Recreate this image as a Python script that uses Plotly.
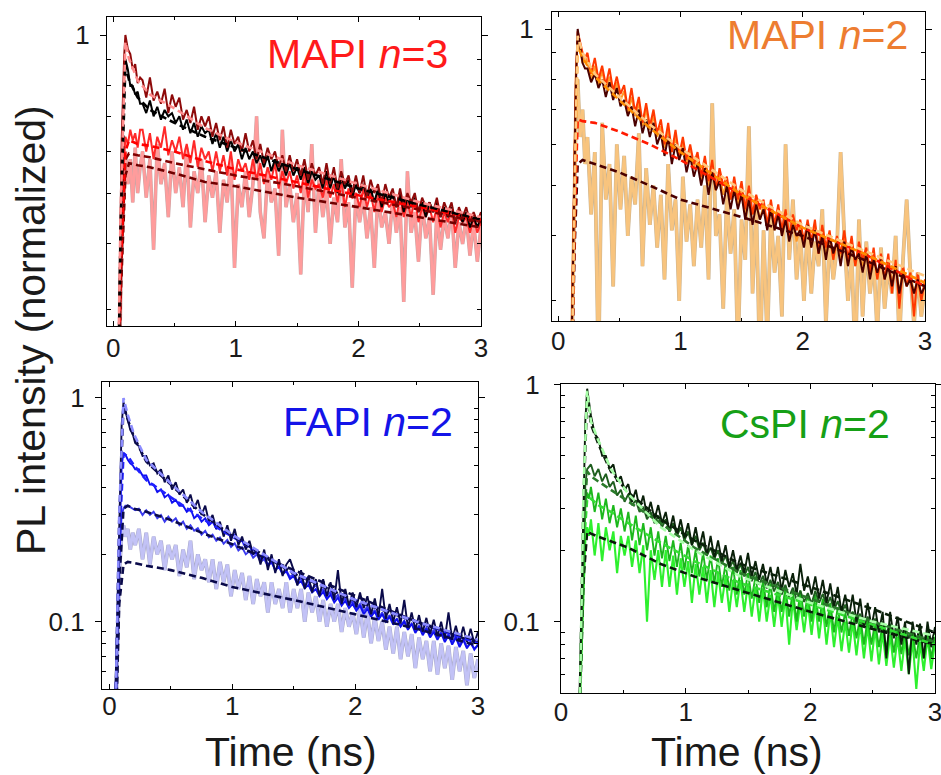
import plotly.graph_objects as go

W, H = 941, 775

# ---------------- shared late time channels (ns) ----------------
LATE_T = [0.24,0.27,0.30,0.33,0.36,0.39,0.42,0.45,0.48,0.51,
          0.54,0.57,0.60,0.63,0.66,0.69,0.72,0.75,0.78,0.81,
          0.84,0.87,0.90,0.93,0.96,0.99,1.02,1.05,1.08,1.11,
          1.14,1.17,1.20,1.23,1.26,1.29,1.32,1.35,1.38,1.41,
          1.44,1.47,1.50,1.53,1.56,1.59,1.62,1.65,1.68,1.71,
          1.74,1.77,1.80,1.83,1.86,1.89,1.92,1.95,1.98,2.01,
          2.04,2.07,2.10,2.13,2.16,2.19,2.22,2.25,2.28,2.31,
          2.34,2.37,2.40,2.43,2.46,2.49,2.52,2.55,2.58,2.61,
          2.64,2.67,2.70,2.73,2.76,2.79,2.82,2.85,2.88,2.91,
          2.94,2.97,3.00]

# ---------------- Panel 1: MAPI n=3 ----------------
P1_EARLY_T = [0.03,0.05,0.07,0.09,0.10,0.12,0.14,0.16,0.18,0.20,0.22]
P1_DARKRED = [.15,.34,.63,.91,1.0,.94,.92,.86,.88,.81,.83,
    .82,.76,.83,.75,.78,.74,.79,.71,.77,.73,
    .76,.69,.72,.68,.73,.66,.70,.67,.70,.64,
    .68,.63,.67,.61,.66,.62,.64,.60,.65,.60,
    .63,.58,.62,.57,.61,.58,.60,.56,.59,.55,
    .59,.55,.58,.54,.58,.53,.57,.54,.56,.52,
    .57,.52,.56,.51,.55,.52,.54,.50,.54,.50,
    .54,.49,.53,.50,.52,.48,.52,.49,.51,.47,
    .51,.47,.50,.48,.50,.46,.49,.47,.48,.46,
    .49,.45,.48,.46,.48,.44,.47,.45,.47,.44,
    .46,.44,.46]
P1_BLACK = [.14,.31,.59,.84,.90,.86,.80,.80,.77,.78,.74,
    .74,.71,.75,.70,.73,.69,.72,.70,.71,.68,
    .70,.66,.69,.65,.68,.64,.67,.65,.66,.62,
    .65,.61,.64,.60,.63,.60,.62,.58,.61,.58,
    .60,.57,.59,.56,.59,.55,.58,.55,.57,.54,
    .57,.54,.56,.53,.56,.52,.55,.53,.54,.51,
    .55,.51,.54,.50,.54,.51,.53,.49,.52,.50,
    .52,.49,.51,.48,.51,.47,.50,.48,.50,.47,
    .50,.46,.49,.47,.49,.46,.48,.45,.48,.46,
    .48,.45,.47,.45,.47,.44,.46,.44,.46,.43,
    .45,.43,.45]
P1_RED = [.12,.28,.48,.60,.64,.62,.66,.63,.65,.61,.66,
    .66,.60,.65,.58,.64,.61,.67,.59,.63,.60,
    .64,.58,.62,.57,.63,.56,.61,.58,.60,.55,
    .60,.55,.59,.54,.60,.53,.58,.55,.57,.53,
    .58,.53,.57,.52,.56,.53,.57,.51,.55,.52,
    .55,.51,.54,.50,.55,.49,.53,.51,.52,.49,
    .53,.49,.52,.48,.53,.47,.51,.49,.50,.47,
    .51,.47,.50,.46,.51,.46,.49,.47,.48,.45,
    .49,.45,.48,.45,.49,.44,.47,.45,.47,.44,
    .47,.43,.46,.44,.47,.42,.45,.44,.45,.42,
    .45,.42,.44]
P1_PINK = [.11,.25,.43,.56,.60,.52,.58,.48,.61,.50,.56,
    .60,.49,.58,.39,.62,.52,.57,.45,.60,.50,
    .56,.47,.61,.43,.55,.50,.58,.44,.54,.49,
    .55,.42,.53,.48,.58,.36,.52,.47,.55,.45,
    .52,.70,.46,.41,.55,.48,.51,.38,.66,.47,
    .52,.44,.50,.35,.54,.46,.62,.42,.53,.45,
    .51,.40,.49,.44,.58,.43,.48,.33,.50,.44,
    .49,.41,.47,.36,.50,.43,.46,.40,.49,.42,
    .47,.31,.55,.42,.46,.37,.48,.41,.45,.32,
    .46,.39,.45,.41,.47,.36,.44,.40,.45,.38,
    .44,.37,.43]
P1_FIT_T = [0.03,0.06,0.10,0.13,0.2,0.3,0.5,0.75,1.0,1.5,2.0,2.5,3.0]
P1_FIT_PINK = [.15,.45,.97,.90,.82,.77,.725,.665,.625,.565,.52,.48,.45]
P1_FIT_BLACK = [.14,.42,.88,.82,.76,.72,.68,.64,.61,.555,.51,.475,.445]
P1_FIT_RED = [.13,.35,.60,.63,.62,.615,.60,.575,.555,.525,.495,.47,.445]
P1_FIT_DR1 = [.13,.33,.58,.595,.59,.585,.57,.555,.54,.515,.49,.465,.44]
P1_FIT_DR2 = [.12,.31,.54,.57,.565,.56,.545,.525,.515,.49,.47,.45,.43]

# ---------------- Panel 2: MAPI n=2 ----------------
P2_EARLY_T = [0.10,0.115,0.13,0.145,0.16,0.18,0.20,0.22]
P2_REDORANGE = [.18,.28,.50,.80,.99,.95,.90,.88,
    .90,.82,.88,.80,.85,.78,.84,.76,.81,.75,
    .78,.70,.77,.69,.74,.66,.72,.65,.70,.63,
    .67,.60,.66,.58,.64,.57,.62,.56,.60,.55,
    .58,.52,.57,.51,.56,.49,.54,.50,.52,.47,
    .52,.47,.51,.45,.50,.44,.48,.45,.47,.42,
    .47,.42,.46,.41,.45,.40,.44,.41,.43,.39,
    .43,.39,.43,.37,.42,.38,.41,.36,.40,.37,
    .41,.36,.40,.35,.39,.36,.38,.34,.38,.33,
    .37,.33,.37,.31,.36,.29,.35,.32,.34,.28,
    .34,.30,.33]
P2_MAROON = [.17,.27,.48,.78,1.0,.92,.86,.84,
    .84,.79,.82,.77,.80,.74,.79,.73,.77,.71,
    .73,.68,.71,.65,.70,.63,.67,.62,.66,.60,
    .63,.57,.62,.55,.60,.56,.59,.53,.57,.52,
    .55,.50,.54,.48,.53,.49,.51,.46,.50,.45,
    .49,.45,.48,.43,.47,.42,.46,.43,.45,.41,
    .45,.41,.44,.40,.43,.39,.42,.40,.41,.38,
    .42,.38,.41,.37,.40,.36,.40,.37,.39,.35,
    .39,.35,.38,.36,.37,.34,.37,.33,.36,.34,
    .36,.33,.35,.32,.35,.31,.34,.32,.33,.31,
    .33,.31,.32]
P2_ORANGE = [.18,.30,.52,.82,.96,.90,.86,.89,
    .86,.80,.85,.78,.83,.77,.81,.74,.79,.73,
    .76,.69,.74,.68,.72,.65,.70,.64,.68,.62,
    .65,.59,.64,.58,.62,.56,.61,.55,.59,.54,
    .57,.51,.56,.50,.54,.49,.53,.48,.51,.47,
    .50,.46,.49,.44,.48,.44,.47,.43,.46,.42,
    .46,.41,.45,.40,.44,.40,.43,.39,.42,.39,
    .42,.38,.42,.37,.41,.37,.40,.36,.39,.36,
    .40,.35,.39,.35,.38,.35,.37,.34,.37,.33,
    .36,.33,.36,.32,.35,.31,.35,.32,.34,.31,
    .33,.30,.33]
P2_LIGHTORANGE = [.16,.27,.45,.68,.80,.62,.70,.55,
    .62,.44,.58,.22,.66,.47,.55,.32,.60,.45,
    .57,.40,.52,.46,.63,.35,.54,.42,.50,.38,
    .48,.33,.55,.41,.47,.30,.52,.39,.46,.35,
    .47,.38,.50,.33,.72,.40,.44,.29,.48,.37,
    .45,.24,.43,.36,.65,.31,.46,.22,.41,.25,
    .44,.34,.40,.28,.60,.36,.47,.33,.41,.30,
    .42,.31,.39,.35,.45,.27,.40,.33,.38,.58,
    .40,.30,.37,.23,.43,.28,.39,.31,.36,.26,
    .38,.29,.35,.31,.40,.25,.36,.47,.34,.27,
    .34,.28,.32]
P2_FIT_T = [0.11,0.135,0.16,0.2,0.3,0.5,0.75,1.0,1.5,2.0,2.5,3.0]
P2_FIT_LIGHT = [.2,.5,.97,.90,.82,.74,.655,.59,.49,.42,.375,.335]
P2_FIT_ORANGE = [.2,.48,.93,.88,.81,.73,.645,.58,.48,.415,.37,.325]
P2_FIT_RED = [.2,.42,.67,.665,.66,.635,.60,.56,.48,.415,.37,.32]
P2_FIT_MAROON = [.2,.38,.55,.56,.55,.53,.50,.47,.435,.40,.36,.32]

# ---------------- Panel 3: FAPI n=2 ----------------
P3_EARLY_T = [0.04,0.06,0.08,0.10,0.115,0.13,0.15,0.17,0.19,0.21]
P3_NAVY = [.03,.09,.31,.76,.96,.87,.80,.72,.69,.63,
    .61,.55,.55,.50,.51,.46,.48,.42,.45,.39,
    .42,.37,.39,.34,.37,.32,.35,.30,.33,.28,
    .30,.26,.28,.24,.27,.23,.26,.22,.24,.21,
    .23,.20,.21,.18,.21,.17,.20,.165,.19,.16,
    .18,.19,.17,.145,.17,.14,.16,.135,.155,.13,
    .155,.13,.15,.125,.17,.12,.14,.118,.135,.116,
    .135,.115,.13,.108,.127,.105,.14,.103,.12,.10,
    .116,.098,.125,.094,.11,.092,.107,.09,.104,.088,
    .102,.086,.10,.084,.11,.083,.096,.082,.095,.081,
    .093,.08,.09]
P3_BLUE = [.03,.08,.25,.50,.57,.56,.53,.51,.50,.48,
    .48,.45,.45,.41,.41,.38,.39,.36,.37,.34,
    .35,.33,.33,.31,.32,.29,.30,.28,.29,.27,
    .28,.26,.265,.25,.255,.24,.245,.228,.23,.215,
    .22,.20,.205,.19,.195,.18,.185,.17,.176,.163,
    .168,.155,.16,.147,.152,.141,.146,.135,.14,.13,
    .136,.126,.132,.122,.128,.118,.124,.115,.12,.112,
    .118,.108,.114,.105,.111,.102,.108,.10,.105,.097,
    .103,.095,.10,.092,.098,.089,.095,.087,.093,.085,
    .09,.083,.089,.081,.087,.079,.085,.077,.083,.076,
    .081,.075,.079]
P3_MIDBLUE = [.02,.07,.19,.30,.32,.33,.33,.325,.32,.315,
    .32,.30,.315,.30,.31,.29,.30,.28,.295,.28,
    .29,.27,.28,.26,.27,.255,.262,.245,.255,.238,
    .245,.23,.238,.223,.232,.216,.224,.208,.215,.20,
    .207,.193,.20,.185,.19,.177,.184,.17,.177,.165,
    .17,.158,.164,.152,.157,.146,.151,.14,.146,.135,
    .14,.13,.136,.126,.132,.122,.128,.118,.124,.115,
    .12,.111,.117,.107,.113,.104,.11,.101,.107,.099,
    .103,.096,.101,.093,.098,.091,.096,.089,.094,.087,
    .092,.085,.09,.083,.088,.081,.086,.079,.084,.077,
    .08,.076,.078]
P3_LAVENDER = [.02,.06,.16,.25,.27,.24,.26,.21,.25,.22,
    .26,.19,.25,.18,.24,.20,.23,.17,.22,.19,
    .22,.16,.21,.175,.23,.155,.20,.17,.19,.15,
    .19,.14,.185,.15,.18,.13,.17,.14,.165,.125,
    .16,.12,.155,.13,.15,.11,.15,.12,.14,.115,
    .15,.11,.14,.115,.14,.10,.135,.11,.13,.10,
    .125,.095,.12,.10,.12,.09,.115,.095,.11,.088,
    .115,.085,.11,.08,.105,.082,.10,.075,.095,.072,
    .095,.068,.09,.07,.088,.062,.085,.068,.082,.06,
    .082,.058,.08,.062,.078,.055,.077,.06,.074,.052,
    .072,.056,.068]
P3_FIT_T = [0.05,0.08,0.115,0.15,0.2,0.3,0.5,0.75,1.0,1.5,2.0,2.5,3.0]
P3_FIT_LIGHT = [.04,.3,1.0,.84,.69,.53,.415,.31,.245,.165,.125,.10,.083]
P3_FIT_NAVY1 = [.04,.28,.93,.80,.67,.52,.41,.305,.242,.164,.124,.10,.082]
P3_FIT_BLUE = [.04,.22,.56,.55,.50,.43,.36,.29,.24,.165,.125,.10,.08]
P3_FIT_NAVY2 = [.03,.15,.32,.33,.32,.31,.285,.25,.222,.17,.13,.10,.08]
P3_FIT_NAVY3 = [.03,.12,.18,.185,.183,.178,.17,.157,.143,.125,.108,.093,.078]

# ---------------- Panel 4: CsPI n=2 ----------------
P4_EARLY_T = [0.14,0.16,0.18,0.195,0.21,0.225]
P4_DARK = [.03,.10,.35,.70,.96,.82,
    .74,.62,.59,.50,.50,.44,.46,.39,.41,.36,
    .38,.32,.36,.30,.34,.28,.32,.27,.31,.26,
    .29,.24,.28,.23,.27,.225,.26,.21,.25,.205,
    .24,.19,.23,.185,.22,.18,.21,.17,.20,.165,
    .19,.16,.195,.155,.18,.15,.175,.145,.17,.14,
    .17,.135,.165,.14,.16,.13,.175,.135,.155,.13,
    .155,.125,.15,.12,.145,.115,.14,.11,.13,.105,
    .13,.10,.125,.095,.12,.095,.115,.09,.11,.07,
    .11,.085,.105,.08,.10,.06,.10,.08,.098,.07,
    .10,.078,.095]
P4_DARKGREEN = [.03,.08,.22,.38,.44,.45,
    .46,.41,.44,.39,.42,.37,.39,.34,.36,.32,
    .345,.31,.325,.29,.305,.27,.29,.26,.28,.25,
    .27,.24,.26,.23,.25,.22,.24,.21,.23,.20,
    .215,.19,.205,.185,.20,.175,.19,.168,.18,.16,
    .175,.155,.17,.148,.162,.143,.156,.138,.15,.134,
    .147,.13,.143,.127,.139,.124,.135,.121,.132,.119,
    .135,.12,.131,.116,.127,.112,.122,.108,.118,.104,
    .11,.098,.108,.095,.105,.093,.103,.091,.10,.089,
    .098,.088,.096,.086,.095,.085,.094,.084,.093,.083,
    .092,.083,.09]
P4_GREEN = [.03,.07,.18,.30,.35,.33,
    .37,.29,.35,.27,.33,.26,.31,.25,.30,.24,
    .29,.22,.28,.21,.26,.20,.25,.19,.24,.185,
    .23,.18,.22,.17,.215,.165,.21,.16,.20,.155,
    .195,.15,.19,.145,.185,.14,.175,.135,.17,.13,
    .165,.13,.16,.125,.155,.12,.15,.115,.145,.11,
    .14,.11,.138,.105,.135,.10,.135,.105,.13,.10,
    .13,.10,.125,.095,.12,.09,.115,.09,.11,.087,
    .11,.085,.105,.08,.103,.08,.10,.078,.098,.076,
    .096,.074,.094,.073,.092,.072,.09,.07,.09,.07,
    .09,.07,.088]
P4_LIME = [.03,.06,.14,.22,.25,.23,
    .27,.19,.26,.18,.25,.20,.24,.16,.23,.19,
    .23,.17,.22,.16,.21,.10,.20,.15,.20,.14,
    .20,.14,.19,.13,.185,.14,.18,.12,.175,.13,
    .17,.12,.165,.115,.16,.12,.155,.11,.15,.115,
    .15,.11,.145,.105,.14,.10,.138,.10,.13,.095,
    .13,.095,.128,.08,.125,.092,.12,.09,.12,.088,
    .12,.085,.115,.08,.11,.078,.105,.075,.10,.074,
    .10,.072,.098,.07,.096,.068,.094,.066,.09,.065,
    .088,.064,.086,.062,.085,.06,.084,.052,.082,.062,
    .086,.063,.082]
P4_FIT_T = [0.15,0.18,0.21,0.24,0.3,0.4,0.54,0.8,1.07,1.44,2.0,2.5,3.0]
P4_FIT_LIGHT = [.04,.35,.94,.70,.58,.44,.345,.25,.20,.155,.12,.10,.087]
P4_FIT_DARK = [.04,.32,.90,.68,.56,.43,.35,.27,.22,.175,.14,.113,.09]
P4_FIT_GREEN = [.04,.25,.43,.41,.39,.36,.32,.26,.205,.16,.125,.10,.082]
P4_FIT_LIME = [.04,.2,.33,.33,.31,.29,.26,.215,.18,.145,.118,.097,.08]
P4_FIT_BLACK = [.04,.15,.24,.235,.228,.218,.205,.175,.155,.135,.11,.093,.08]

X_TICKS = [0, 1, 2, 3]
X_MINOR = [0.5, 1.5, 2.5]
Y_MINOR_TOP = [0.3, 0.4, 0.5, 0.6, 0.7, 0.8, 0.9]
Y_MINOR_BOT = [0.05, 0.06, 0.07, 0.08, 0.09, 0.2, 0.3, 0.4, 0.5, 0.6, 0.7, 0.8, 0.9]

FONT = "Liberation Sans, Arial, sans-serif"

fig = go.Figure()


def data_line(n, x, y, color, width=1.5, edge=None):
    xa = "x" if n == 1 else f"x{n}"
    ya = "y" if n == 1 else f"y{n}"
    if edge:
        fig.add_trace(go.Scatter(x=x, y=y, mode="lines", xaxis=xa, yaxis=ya,
                                 line=dict(color=edge, width=width + 1.0),
                                 showlegend=False, hoverinfo="skip"))
    fig.add_trace(go.Scatter(x=x, y=y, mode="lines", xaxis=xa, yaxis=ya,
                             line=dict(color=color, width=width),
                             showlegend=False, hoverinfo="skip"))


def fit_line(n, x, y, color, width=2.6):
    xa = "x" if n == 1 else f"x{n}"
    ya = "y" if n == 1 else f"y{n}"
    fig.add_trace(go.Scatter(x=x, y=y, mode="lines", xaxis=xa, yaxis=ya,
                             line=dict(color=color, width=width, dash="7px,4px"),
                             showlegend=False, hoverinfo="skip"))


# Panel 1
T1 = P1_EARLY_T + LATE_T
data_line(1, T1, P1_PINK, "#FF9C9C", 2.6, edge="#C9A4A4")
data_line(1, T1, P1_RED, "#FF2A2A", 2.0)
data_line(1, T1, P1_BLACK, "#000000", 2.0)
data_line(1, T1, P1_DARKRED, "#8E0A0A", 2.0)
fit_line(1, P1_FIT_T, P1_FIT_DR2, "#700000")
fit_line(1, P1_FIT_T, P1_FIT_DR1, "#800000")
fit_line(1, P1_FIT_T, P1_FIT_RED, "#FF0000")
fit_line(1, P1_FIT_T, P1_FIT_BLACK, "#000000")
fit_line(1, P1_FIT_T, P1_FIT_PINK, "#FF8C8C")

# Panel 2
T2 = P2_EARLY_T + LATE_T
data_line(2, T2, P2_LIGHTORANGE, "#F8C47E", 2.8, edge="#C9B28F")
data_line(2, T2, P2_ORANGE, "#FF9A2A", 2.0)
data_line(2, T2, P2_REDORANGE, "#FF3800", 2.0)
data_line(2, T2, P2_MAROON, "#4A0000", 2.0)
fit_line(2, P2_FIT_T, P2_FIT_MAROON, "#4A0000")
fit_line(2, P2_FIT_T, P2_FIT_RED, "#FF1A00")
fit_line(2, P2_FIT_T, P2_FIT_ORANGE, "#FF8C00")
fit_line(2, P2_FIT_T, P2_FIT_LIGHT, "#FFC880")

# Panel 3
T3 = P3_EARLY_T + LATE_T
data_line(3, T3, P3_LAVENDER, "#C2C2F6", 2.8, edge="#A9A9C9")
data_line(3, T3, P3_MIDBLUE, "#3A3AEE", 1.9)
data_line(3, T3, P3_BLUE, "#1010F0", 1.9)
data_line(3, T3, P3_NAVY, "#0A0A4A", 1.9)
fit_line(3, P3_FIT_T, P3_FIT_NAVY3, "#0A0A4A")
fit_line(3, P3_FIT_T, P3_FIT_NAVY2, "#0A0A4A")
fit_line(3, P3_FIT_T, P3_FIT_BLUE, "#2020FF")
fit_line(3, P3_FIT_T, P3_FIT_NAVY1, "#0A0A4A")
fit_line(3, P3_FIT_T, P3_FIT_LIGHT, "#8C8CFF")

# Panel 4
T4 = P4_EARLY_T + LATE_T
data_line(4, T4, P4_LIME, "#2EF02E", 2.1)
data_line(4, T4, P4_GREEN, "#1CB81C", 1.9)
data_line(4, T4, P4_DARKGREEN, "#1E5E1E", 1.9)
data_line(4, T4, P4_DARK, "#0A200A", 1.9)
fit_line(4, P4_FIT_T, P4_FIT_BLACK, "#0A1A0A")
fit_line(4, P4_FIT_T, P4_FIT_LIME, "#33DD33")
fit_line(4, P4_FIT_T, P4_FIT_GREEN, "#2A7A2A")
fit_line(4, P4_FIT_T, P4_FIT_DARK, "#0A200A")
fit_line(4, P4_FIT_T, P4_FIT_LIGHT, "#A8FFA8")

# ---------------- layout: panels placed in pixel frames ----------------
# (left, right, top, bottom) in pixels
FRAMES = {1: (107, 481, 17, 326), 2: (552, 925, 12, 321),
          3: (102, 478, 382, 689), 4: (561, 935, 384, 693)}
XRANGES = {1: [-0.05, 3.0], 2: [-0.05, 3.0], 3: [-0.06, 3.0], 4: [0.0, 3.0]}
YRANGES = {1: [-0.5543, 0.0343], 2: [-0.5615, 0.0327],
           3: [-1.301, 0.0715], 4: [-1.301, 0.002]}
XSTAND = {1: -1, 2: -3, 3: -6, 4: -4}
YSTAND = {1: 5, 2: 6, 3: 5, 4: 9}

tickfont = dict(family=FONT, size=26, color="#1a1a1a")
layout = dict(width=W, height=H, margin=dict(l=0, r=0, t=0, b=0, pad=0),
              paper_bgcolor="white", plot_bgcolor="white", showlegend=False)

for n, (l, r, t, b) in FRAMES.items():
    sx = "" if n == 1 else str(n)
    top_panel = n in (1, 2)
    layout["xaxis" + sx] = dict(
        domain=[l / W, r / W], range=XRANGES[n], anchor="y" + sx,
        automargin=False, ticklabeloverflow="allow",
        showline=True, linecolor="#000", linewidth=1.3, mirror="allticks",
        ticks="inside", ticklen=5, tickwidth=1.3, tickcolor="#000",
        tickvals=X_TICKS, ticktext=[str(v) for v in X_TICKS],
        tickfont=tickfont, ticklabelstandoff=XSTAND[n],
        minor=dict(tickvals=X_MINOR, ticks="inside", ticklen=3,
                   tickwidth=1.2, tickcolor="#000"),
        showgrid=False, zeroline=False)
    if top_panel:
        yt, ytt, ym = [1], ["1"], Y_MINOR_TOP
    else:
        yt, ytt, ym = [0.1, 1], ["0.1", "1"], Y_MINOR_BOT
    layout["yaxis" + sx] = dict(
        domain=[1 - b / H, 1 - t / H], range=YRANGES[n], type="log",
        anchor="x" + sx, automargin=False, ticklabeloverflow="allow",
        showline=True, linecolor="#000", linewidth=1.3,
        mirror="allticks", ticks="outside", ticklen=6, tickwidth=1.3,
        tickcolor="#000", tickvals=yt, ticktext=ytt, tickfont=tickfont,
        ticklabelstandoff=YSTAND[n],
        minor=dict(tickvals=ym, ticks="inside", ticklen=4, tickwidth=1.1,
                   tickcolor="#000"),
        showgrid=False, zeroline=False)


def ann(text, px, py, size, color="#1a1a1a", angle=0):
    return dict(text=text, x=px / W, y=1 - py / H, xref="paper", yref="paper",
                xanchor="center", yanchor="middle", showarrow=False,
                textangle=angle, font=dict(family=FONT, size=size, color=color))


layout["annotations"] = [
    ann("MAPI <i>n</i>=3", 357, 54, 41, "#FF1A1A"),
    ann("MAPI <i>n</i>=2", 817, 35, 41, "#ED7D31"),
    ann("FAPI <i>n</i>=2", 368, 422, 41, "#1414E8"),
    ann("CsPI <i>n</i>=2", 805, 424, 41, "#16A016"),
    ann("PL intensity (normalized)", 31, 330, 41, angle=-90),
    ann("Time (ns)", 291, 752, 41),
    ann("Time (ns)", 737, 752, 41),
]

fig.update_layout(**layout)
fig.write_html("out.html", config={"displayModeBar": False},
               post_script="document.body.style.margin='0';")
